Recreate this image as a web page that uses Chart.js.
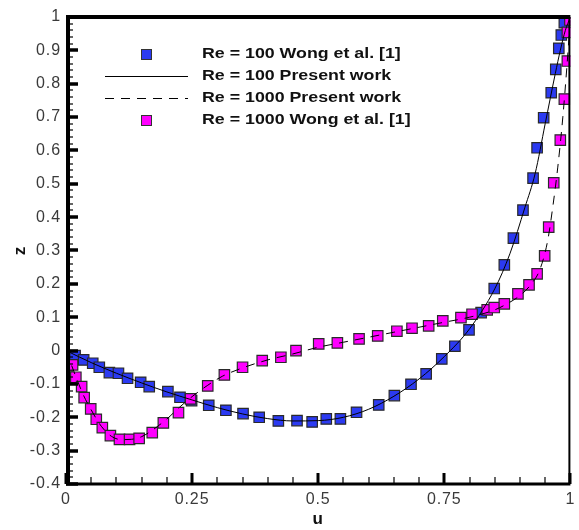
<!DOCTYPE html>
<html>
<head>
<meta charset="utf-8">
<script src="https://cdn.jsdelivr.net/npm/chart.js@4.4.1/dist/chart.umd.min.js"></script>
<style>
    body { margin: 0; background: #fff; }
    canvas { display: block; }
</style>
</head>
<body>
<canvas id="profile" width="579" height="530"></canvas>
<script>
// Re = 100, Wong et al. [1] (blue squares)
const re100WongU = [0.018, 0.035, 0.053, 0.066, 0.086, 0.104, 0.122, 0.148, 0.165, 0.202, 0.226, 0.249, 0.283, 0.317, 0.351, 0.383, 0.421, 0.458, 0.488, 0.516, 0.544, 0.576, 0.62, 0.651, 0.684, 0.714, 0.745, 0.771, 0.799, 0.823, 0.849, 0.869, 0.887, 0.906, 0.926, 0.934, 0.947, 0.962, 0.971, 0.977, 0.982, 0.988]
const re100WongZ = [-0.015, -0.028, -0.038, -0.05, -0.066, -0.068, -0.083, -0.095, -0.108, -0.123, -0.14, -0.15, -0.164, -0.179, -0.189, -0.2, -0.211, -0.21, -0.214, -0.205, -0.205, -0.185, -0.163, -0.135, -0.101, -0.07, -0.025, 0.013, 0.062, 0.114, 0.186, 0.257, 0.337, 0.421, 0.517, 0.608, 0.698, 0.773, 0.843, 0.906, 0.946, 0.983]

// Re = 1000, Wong et al. [1] (magenta squares)
const re1000WongU = [0.013, 0.0195, 0.031, 0.036, 0.049, 0.06, 0.072, 0.088, 0.106, 0.126, 0.145, 0.171, 0.193, 0.223, 0.247, 0.281, 0.314, 0.35, 0.389, 0.426, 0.456, 0.501, 0.538, 0.581, 0.618, 0.656, 0.686, 0.719, 0.747, 0.783, 0.805, 0.835, 0.849, 0.869, 0.896, 0.918, 0.934, 0.949, 0.957, 0.967, 0.98, 0.988, 0.994, 0.994, 0.999]
const re1000WongZ = [-0.043, -0.08, -0.108, -0.141, -0.175, -0.206, -0.231, -0.255, -0.266, -0.266, -0.263, -0.246, -0.217, -0.186, -0.145, -0.106, -0.073, -0.05, -0.03, -0.02, 0.0, 0.02, 0.023, 0.035, 0.044, 0.058, 0.067, 0.074, 0.089, 0.099, 0.109, 0.122, 0.129, 0.14, 0.17, 0.197, 0.23, 0.284, 0.37, 0.503, 0.631, 0.754, 0.868, 0.954, 0.991]

// present work curves
const re100PresentU = [0, 0.05, 0.1, 0.15, 0.2, 0.25, 0.3, 0.35, 0.4, 0.45, 0.5, 0.55, 0.6, 0.65, 0.7, 0.75, 0.8, 0.85, 0.88, 0.91, 0.93, 0.95, 0.97, 0.98, 0.99, 1]
const re100PresentZ = [0, -0.036, -0.068, -0.097, -0.124, -0.148, -0.171, -0.19, -0.204, -0.211, -0.21, -0.2, -0.176, -0.137, -0.085, -0.018, 0.065, 0.185, 0.29, 0.43, 0.53, 0.68, 0.83, 0.9, 0.96, 1]
const re1000PresentU = [0, 0.01, 0.02, 0.035, 0.05, 0.07, 0.09, 0.11, 0.13, 0.15, 0.17, 0.2, 0.225, 0.25, 0.28, 0.31, 0.35, 0.4, 0.45, 0.5, 0.55, 0.6, 0.65, 0.7, 0.75, 0.8, 0.85, 0.88, 0.9, 0.92, 0.94, 0.955, 0.965, 0.975, 0.985, 0.993, 1]
const re1000PresentZ = [0, -0.04, -0.08, -0.135, -0.178, -0.227, -0.257, -0.267, -0.266, -0.258, -0.24, -0.205, -0.17, -0.138, -0.105, -0.077, -0.052, -0.028, -0.01, 0.01, 0.025, 0.04, 0.055, 0.07, 0.085, 0.1, 0.122, 0.145, 0.165, 0.195, 0.245, 0.33, 0.43, 0.55, 0.7, 0.85, 1]

const xTicks = [0, 0.25, 0.5, 0.75, 1]
const yTicks = [1, 0.9, 0.8, 0.7, 0.6, 0.5, 0.4, 0.3, 0.2, 0.1, 0, -0.1, -0.2, -0.3, -0.4]

const pts = (us, zs) => us.map((u, i) => ({ x: u, y: zs[i] }))

// ticks pointing into the plot + the frame
const frame = {
    id: 'frame',
    afterDatasetsDraw(chart) {
        const { ctx, chartArea: a, scales } = chart
        ctx.save()
        ctx.strokeStyle = '#000'
        ctx.lineCap = 'butt'
        for (let v = -0.4; v <= 1.0001; v += 0.02) {
            const y = Math.round(scales.y.getPixelForValue(v))
            const major = Math.abs(v * 10 - Math.round(v * 10)) < 1e-6
            ctx.lineWidth = major ? 3.5 : 1.2
            ctx.beginPath()
            ctx.moveTo(a.left, y)
            ctx.lineTo(a.left + (major ? 12 : 7), y)
            ctx.stroke()
        }
        for (let v = 0; v <= 1.0001; v += 0.05) {
            const x = Math.round(scales.x.getPixelForValue(v))
            const major = Math.abs(v * 4 - Math.round(v * 4)) < 1e-6
            ctx.lineWidth = major ? 3 : 1.2
            ctx.beginPath()
            ctx.moveTo(x, a.bottom)
            ctx.lineTo(x, a.bottom - (major ? 11 : 7))
            ctx.stroke()
        }
        ctx.lineWidth = 4
        ctx.beginPath()
        ctx.moveTo(a.left + 2, a.bottom)
        ctx.lineTo(a.left + 2, a.top)
        ctx.moveTo(a.left, a.top)
        ctx.lineTo(a.right, a.top)
        ctx.stroke()
        ctx.lineWidth = 3
        ctx.beginPath()
        ctx.moveTo(a.left, a.bottom)
        ctx.lineTo(a.right, a.bottom)
        ctx.stroke()
        ctx.lineWidth = 2
        ctx.beginPath()
        ctx.moveTo(a.right - 1, a.top)
        ctx.lineTo(a.right - 1, a.bottom)
        ctx.stroke()
        ctx.restore()
    },
}

// legend inside the plot, upper left
const inLegend = {
    id: 'inLegend',
    afterDraw(chart) {
        const { ctx, chartArea: a } = chart
        const ds = chart.data.datasets
        const rows = [ds[3], ds[0], ds[1], ds[2]]
        ctx.save()
        ctx.letterSpacing = '0px'
        rows.forEach((d, i) => {
            const y = a.top + 37 + i * 22
            if (d.showLine) {
                ctx.strokeStyle = '#000'
                ctx.lineWidth = 1
                ctx.setLineDash(d.borderDash || [])
                ctx.beginPath()
                ctx.moveTo(a.left + 39, y + 0.5)
                ctx.lineTo(a.left + 122, y + 0.5)
                ctx.stroke()
                ctx.setLineDash([])
            } else {
                ctx.fillStyle = d.backgroundColor
                ctx.strokeStyle = '#333'
                ctx.lineWidth = 1
                ctx.fillRect(a.left + 75, y - 5, 10, 10)
                ctx.strokeRect(a.left + 75.5, y - 4.5, 10, 10)
            }
            // the source text is drawn wide, so stretch it sideways
            ctx.save()
            ctx.translate(a.left + 136, y)
            ctx.scale(1.27, 1)
            ctx.font = 'bold 14px "Liberation Sans", Arial, sans-serif'
            ctx.textBaseline = 'middle'
            ctx.fillStyle = '#111'
            ctx.fillText(d.label, 0, 0)
            ctx.restore()
        })
        ctx.restore()
    },
}

const tickSpacing = {
    id: 'tickSpacing',
    beforeDraw(chart) {
        chart.ctx.letterSpacing = '0.9px'
    },
}

new Chart(document.getElementById('profile'), {
    type: 'scatter',
    data: {
        datasets: [
            {
                label: 'Re = 100 Present work',
                data: pts(re100PresentU, re100PresentZ),
                showLine: true,
                borderColor: '#000',
                borderWidth: 1,
                pointRadius: 0,
                cubicInterpolationMode: 'monotone',
            },
            {
                label: 'Re = 1000 Present work',
                data: pts(re1000PresentU, re1000PresentZ),
                showLine: true,
                borderColor: '#000',
                borderWidth: 1,
                borderDash: [9, 7],
                pointRadius: 0,
                cubicInterpolationMode: 'monotone',
            },
            {
                label: 'Re = 1000 Wong et al. [1]',
                data: pts(re1000WongU, re1000WongZ),
                pointStyle: 'rect',
                pointRadius: 7.4,
                backgroundColor: '#ff00ff',
                borderColor: '#2a2a2a',
                borderWidth: 1.2,
            },
            {
                label: 'Re = 100 Wong et al. [1]',
                data: pts(re100WongU, re100WongZ),
                pointStyle: 'rect',
                pointRadius: 7.4,
                backgroundColor: '#2b3af2',
                borderColor: '#2a2a2a',
                borderWidth: 1.2,
            },
        ],
    },
    options: {
        responsive: false,
        animation: false,
        layout: { padding: { top: 17, right: 1, left: 0, bottom: 0 } },
        plugins: { legend: { display: false }, tooltip: { enabled: false } },
        scales: {
            x: {
                type: 'linear',
                min: 0,
                max: 1,
                afterBuildTicks: (s) => { s.ticks = xTicks.map((v) => ({ value: v })) },
                afterFit: (s) => { s.height = 46; s.paddingLeft = 0; s.paddingRight = 0 },
                grid: { display: false, drawTicks: false },
                border: { display: false },
                ticks: {
                    color: '#3a3a3a',
                    padding: 6,
                    maxRotation: 0,
                    autoSkip: false,
                    font: { family: '"Liberation Sans", Arial, sans-serif', size: 16 },
                    callback: (v) => String(Number(v.toFixed(2))),
                },
                title: {
                    display: true,
                    text: 'u',
                    color: '#111',
                    padding: { top: 0, bottom: 0 },
                    font: { family: '"Liberation Sans", Arial, sans-serif', size: 17, weight: 'bold' },
                },
            },
            y: {
                type: 'linear',
                min: -0.4,
                max: 1,
                afterBuildTicks: (s) => { s.ticks = yTicks.map((v) => ({ value: v })) },
                afterFit: (s) => { s.width = 66; s.paddingTop = 0; s.paddingBottom = 0 },
                grid: { display: false, drawTicks: false },
                border: { display: false },
                ticks: {
                    color: '#3a3a3a',
                    padding: 5,
                    autoSkip: false,
                    font: { family: '"Liberation Sans", Arial, sans-serif', size: 16 },
                    callback: (v) => String(Number(v.toFixed(2))),
                },
                title: {
                    display: true,
                    text: 'z',
                    color: '#111',
                    padding: { top: 10, bottom: 0 },
                    font: { family: '"Liberation Sans", Arial, sans-serif', size: 17, weight: 'bold' },
                },
            },
        },
    },
    plugins: [tickSpacing, frame, inLegend],
})
</script>
</body>
</html>
